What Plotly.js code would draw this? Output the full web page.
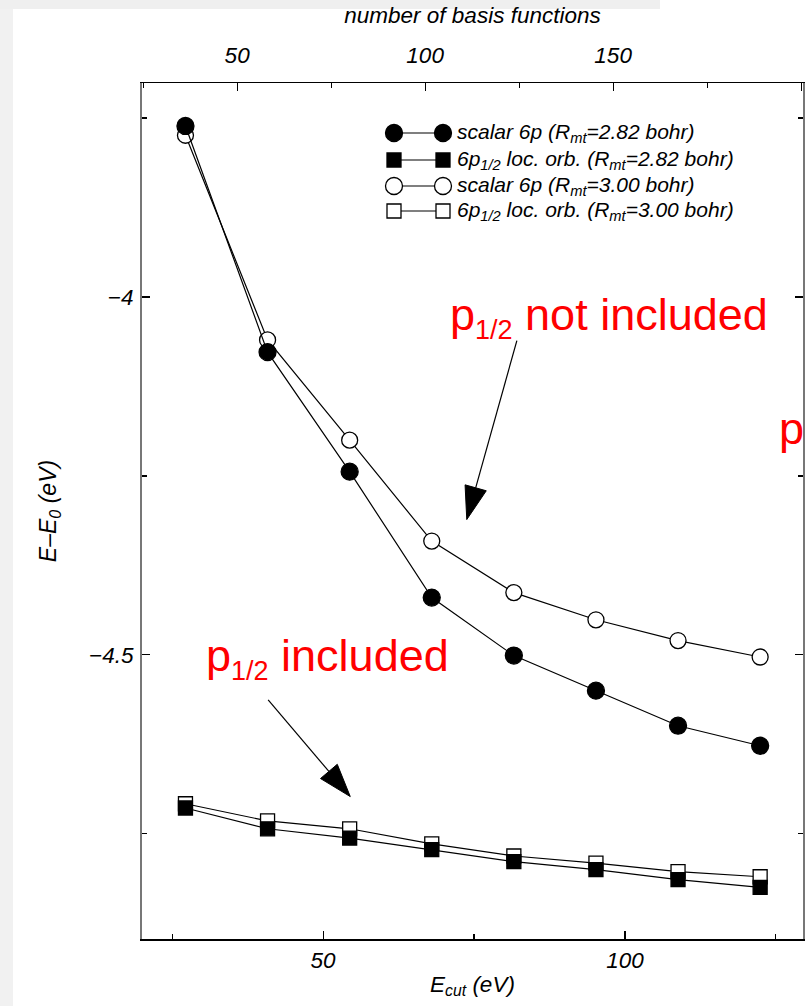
<!DOCTYPE html>
<html>
<head>
<meta charset="utf-8">
<script src="https://cdn.plot.ly/plotly-3.0.1.min.js"></script>
<style>html,body{margin:0;padding:0;background:#fff;}#chart{width:808px;height:1006px;}</style>
</head>
<body>
<div id="chart"></div>
<script>
// ---- data ----
const ecut = [27.2, 40.8, 54.4, 68.0, 81.6, 95.2, 108.8, 122.4];           // E_cut (eV)
const scalar282 = [-3.761, -4.077, -4.244, -4.420, -4.501, -4.550, -4.599, -4.627];
const scalar300 = [-3.774, -4.060, -4.200, -4.341, -4.413, -4.451, -4.480, -4.503];
const loc282 = [-4.714, -4.743, -4.756, -4.772, -4.789, -4.800, -4.814, -4.825];
const loc300 = [-4.708, -4.732, -4.743, -4.764, -4.781, -4.791, -4.803, -4.810];
const seriesNames = [
  'scalar 6p (R<sub>mt</sub>=2.82 bohr)',
  '6p<sub>1/2</sub> loc. orb. (R<sub>mt</sub>=2.82 bohr)',
  'scalar 6p (R<sub>mt</sub>=3.00 bohr)',
  '6p<sub>1/2</sub> loc. orb. (R<sub>mt</sub>=3.00 bohr)'
];
const xTitle = 'E<sub>cut</sub> (eV)';
const yTitle = 'E\u2013E<sub>0</sub> (eV)';
const topTitle = 'number of basis functions';
const noteTop = 'p<sub><span style="font-size:27px">1/2</span></sub> not included';
const noteBottom = 'p<sub><span style="font-size:27px">1/2</span></sub> included';

// ---- geometry ----
const W = 808, H = 1006;
const M = {l: 142, r: 5, t: 83, b: 67};
const PW = W - M.l - M.r, PH = H - M.t - M.b;
const XR = [20, 129.5], YR = [-4.897, -3.701];
const px2x = p => (p - M.l) / PW;
const py2y = p => (H - M.b - p) / PH;
const dx2px = x => (x - XR[0]) / (XR[1] - XR[0]) * PW;   // relative pixel (right +)
const dy2px = y => (y - YR[0]) / (YR[1] - YR[0]) * PH;   // relative pixel (up +)

const FONT = 'Liberation Sans, Arial, Helvetica, sans-serif';
const lineStyle = {color: '#000', width: 1.2};

function tr(y, sym, fill, size) {
  return {
    x: ecut, y: y, type: 'scatter', mode: 'lines+markers',
    line: lineStyle, showlegend: false, hoverinfo: 'skip',
    marker: {symbol: sym, size: size, color: fill, line: {color: '#000', width: 1.3}}
  };
}
const traces = [
  tr(scalar300, 'circle', '#fff', 16),
  tr(loc300, 'square', '#fff', 14),
  tr(scalar282, 'circle', '#000', 17),
  tr(loc282, 'square', '#000', 14),
  {x: [], y: [], xaxis: 'x2', yaxis: 'y', type: 'scatter', showlegend: false}
];

const shapes = [];
const annotations = [];
// background strips (screenshot edges)
shapes.push({type: 'rect', xref: 'paper', yref: 'paper', x0: px2x(0), x1: px2x(13), y0: py2y(H), y1: py2y(0),
  fillcolor: '#f1f1f1', line: {width: 0}, layer: 'below'});
shapes.push({type: 'rect', xref: 'paper', yref: 'paper', x0: px2x(0), x1: px2x(660), y0: py2y(9), y1: py2y(0),
  fillcolor: '#efefef', line: {width: 0}, layer: 'below'});

// ---- custom legend (marker—marker samples) ----
const legRows = [133, 160, 186, 211];
const legStyle = [
  {t: 'circle', f: '#000'}, {t: 'rect', f: '#000'},
  {t: 'circle', f: '#fff'}, {t: 'rect', f: '#fff'}
];
legRows.forEach((ry, i) => {
  const yy = py2y(ry);
  shapes.push({type: 'line', xref: 'paper', yref: 'paper', x0: px2x(394), x1: px2x(443), y0: yy, y1: yy,
    line: {color: '#000', width: 1.2}});
  [394, 443].forEach(cx => {
    const r = legStyle[i].t === 'circle' ? 8.5 : 7;
    shapes.push({type: legStyle[i].t, xref: 'paper', yref: 'paper',
      xsizemode: 'pixel', ysizemode: 'pixel', xanchor: px2x(cx), yanchor: yy,
      x0: -r, x1: r, y0: -r, y1: r, fillcolor: legStyle[i].f, line: {color: '#000', width: 1.3}});
  });
  annotations.push({xref: 'paper', yref: 'paper', x: px2x(455), y: yy, xanchor: 'left', yanchor: 'middle',
    text: seriesNames[i], showarrow: false, font: {family: FONT, size: 21, color: '#000', style: 'italic'}});
});

// ---- arrows: thin line + long filled triangular head ----
function arrow(tipX, tipY, tailX, tailY) {
  const vx = dx2px(tipX) - dx2px(tailX), vy = dy2px(tipY) - dy2px(tailY);
  const L = Math.hypot(vx, vy), ux = vx / L, uy = vy / L;
  const hl = 33, hw = 11;
  const bx = -hl * ux, by = -hl * uy;          // base centre relative to tip
  const nx = -uy, ny = ux;
  const p1 = [bx + hw * nx, by + hw * ny], p2 = [bx - hw * nx, by - hw * ny];
  // line from tail to base of head
  const baseX = tipX + bx / PW * (XR[1] - XR[0]), baseY = tipY + by / PH * (YR[1] - YR[0]);
  shapes.push({type: 'line', xref: 'x', yref: 'y', x0: tailX, y0: tailY, x1: baseX, y1: baseY,
    line: {color: '#000', width: 1.2}});
  shapes.push({type: 'path', xref: 'x', yref: 'y', xsizemode: 'pixel', ysizemode: 'pixel',
    xanchor: tipX, yanchor: tipY,
    path: `M0,0 L${p1[0].toFixed(2)},${p1[1].toFixed(2)} L${p2[0].toFixed(2)},${p2[1].toFixed(2)} Z`,
    fillcolor: '#000', line: {color: '#000', width: 1}});
}
arrow(73.8, -4.311, 82.1, -4.061);
arrow(54.5, -4.698, 40.9, -4.563);

// ---- red notes ----
annotations.push({xref: 'x', yref: 'y', x: 70.7, y: -4.028, xanchor: 'left', yanchor: 'middle',
  text: noteTop, showarrow: false, font: {family: FONT, size: 45, color: '#ff0000'}});
annotations.push({xref: 'x', yref: 'y', x: 30.3, y: -4.505, xanchor: 'left', yanchor: 'middle',
  text: noteBottom, showarrow: false, font: {family: FONT, size: 45, color: '#ff0000'}});
annotations.push({xref: 'paper', yref: 'paper', x: px2x(777), y: py2y(428), xanchor: 'left', yanchor: 'middle',
  text: 'p', showarrow: false, font: {family: FONT, size: 45, color: '#ff0000'}});

const tickFont = {family: FONT, size: 22.5, color: '#000', style: 'italic'};
const titleFont = {family: FONT, size: 22.5, color: '#000', style: 'italic'};

const layout = {
  width: W, height: H,
  margin: M,
  paper_bgcolor: '#fff', plot_bgcolor: '#fff',
  showlegend: false,
  xaxis: {
    range: XR, tick0: 0, dtick: 50, ticks: 'inside', ticklen: 8, tickwidth: 1.2, tickcolor: '#000',
    minor: {dtick: 25, tick0: 0, ticks: 'inside', ticklen: 5, tickcolor: '#000'},
    showgrid: false, zeroline: false, showline: true, linecolor: '#000', linewidth: 1.5, mirror: false,
    tickfont: tickFont, ticklabelstandoff: 0,
    title: {text: xTitle, font: titleFont, standoff: 4}
  },
  xaxis2: {
    overlaying: 'x', side: 'top', anchor: 'y',
    range: [24.7, 200.5], tick0: 0, dtick: 50, ticks: 'inside', ticklen: 8, tickwidth: 1.2, tickcolor: '#000',
    minor: {dtick: 25, tick0: 0, ticks: 'inside', ticklen: 5, tickcolor: '#000'},
    showgrid: false, zeroline: false, showline: true, linecolor: '#000', linewidth: 1.5,
    tickfont: tickFont, ticklabelstandoff: 10,
    title: {text: topTitle, font: titleFont, standoff: 12}
  },
  yaxis: {
    range: YR, tick0: 0, dtick: 0.5, ticks: 'inside', ticklen: 8, tickwidth: 1.2, tickcolor: '#000',
    minor: {dtick: 0.25, tick0: 0, ticks: 'inside', ticklen: 5, tickcolor: '#000'},
    showgrid: false, zeroline: false, showline: true, linecolor: '#777', linewidth: 2, mirror: 'ticks',
    tickfont: tickFont, ticklabelstandoff: 2,
    title: {text: yTitle, font: {family: FONT, size: 23, color: '#000', style: 'italic'}, standoff: 26}
  },
  shapes: shapes,
  annotations: annotations
};

Plotly.newPlot('chart', traces, layout, {staticPlot: true, displayModeBar: false});
</script>
</body>
</html>
